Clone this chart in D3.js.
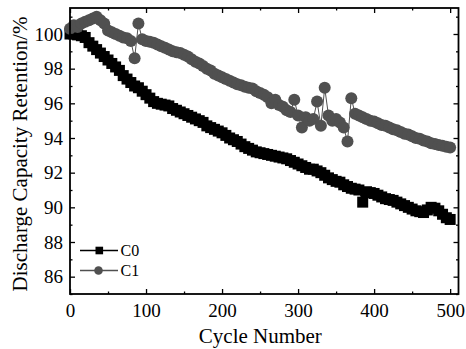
<!DOCTYPE html>
<html>
<head>
<meta charset="utf-8">
<script src="https://cdn.jsdelivr.net/npm/d3@7"></script>
<style>
  body { margin: 0; background: #fff; }
  svg { display: block; }
  .tick line { stroke: #000; stroke-width: 1.3; }
</style>
</head>
<body>
<div id="chart"></div>
<script>
// cycle numbers (sampled every 5 cycles)
const cycles = [0,5,10,15,20,25,30,35,40,45,50,55,60,65,70,75,80,85,90,95,
  100,105,110,115,120,125,130,135,140,145,150,155,160,165,170,175,180,185,190,195,
  200,205,210,215,220,225,230,235,240,245,250,255,260,265,270,275,280,285,290,295,
  300,305,310,315,320,325,330,335,340,345,350,355,360,365,370,375,380,385,390,395,
  400,405,410,415,420,425,430,435,440,445,450,455,460,465,470,475,480,485,490,495,500];

// C0 retention (%)
const c0Values = [100.0,100.0,99.95,99.9,99.8,99.5,99.3,99.1,98.9,98.7,
  98.5,98.3,98.1,97.9,97.6,97.4,97.2,97.0,96.9,96.7,
  96.5,96.3,96.1,96.0,95.95,95.9,95.85,95.7,95.6,95.5,
  95.4,95.3,95.2,95.1,95.0,94.9,94.7,94.6,94.5,94.4,
  94.3,94.15,94.0,93.9,93.8,93.65,93.5,93.4,93.3,93.2,
  93.15,93.1,93.05,93.0,92.95,92.9,92.85,92.8,92.7,92.6,
  92.5,92.4,92.3,92.2,92.2,92.1,92.0,91.85,91.7,91.6,
  91.5,91.45,91.3,91.2,91.1,91.05,91.0,90.3,90.9,90.85,
  90.8,90.7,90.6,90.5,90.45,90.4,90.3,90.2,90.1,90.0,
  89.9,89.8,89.75,89.7,89.85,90.0,89.95,89.8,89.6,89.4,89.3];

// C1 retention (%)
const c1Values = [100.3,100.5,100.4,100.6,100.7,100.8,100.9,101.0,100.8,100.6,
  100.2,100.1,100.0,99.9,99.8,99.75,99.6,98.6,100.6,99.7,
  99.6,99.55,99.5,99.4,99.3,99.2,99.1,99.0,98.95,98.9,
  98.8,98.7,98.55,98.4,98.3,98.15,98.0,97.9,97.7,97.6,
  97.5,97.4,97.3,97.2,97.1,97.05,96.95,96.9,96.85,96.7,
  96.6,96.5,96.35,96.0,96.2,95.9,95.8,95.6,95.5,96.2,
  95.3,94.6,95.2,95.0,95.1,96.1,94.7,96.9,95.3,95.0,
  95.1,94.9,94.6,93.8,96.3,95.4,95.3,95.2,95.1,95.0,
  94.95,94.85,94.75,94.7,94.6,94.5,94.45,94.35,94.25,94.2,
  94.1,94.0,93.95,93.85,93.8,93.7,93.65,93.6,93.55,93.5,93.45];

const seriesNames = ["C0", "C1"];
const seriesColors = ["#000000", "#505050"];
const xMajorTicks = [0, 100, 200, 300, 400, 500];
const xMinorTicks = [50, 150, 250, 350, 450];
const yMajorTicks = [86, 88, 90, 92, 94, 96, 98, 100];
const yMinorTicks = [85, 87, 89, 91, 93, 95, 97, 99, 101];

const width = 466, height = 349;
const plot = {left: 70, right: 458.5, top: 8, bottom: 294};
const font = "Liberation Serif, Times New Roman, serif";

const svg = d3.select("#chart").append("svg")
    .attr("width", width)
    .attr("height", height);

const x = d3.scaleLinear().domain([0, 511]).range([plot.left, plot.right]);
const y = d3.scaleLinear().domain([85, 101.5]).range([plot.bottom, plot.top]);

// series data
const data = [
    cycles.map((c, i) => ({x: c, y: c0Values[i]})),
    cycles.map((c, i) => ({x: c, y: c1Values[i]}))
];

const line = d3.line().x(d => x(d.x)).y(d => y(d.y));

// C0 first, C1 on top
data.forEach((pts, k) => {
    const g = svg.append("g");
    g.append("path")
        .attr("d", line(pts))
        .attr("fill", "none")
        .attr("stroke", seriesColors[k])
        .attr("stroke-width", 1);
    if (k === 0) {
        g.selectAll("rect").data(pts).enter().append("rect")
            .attr("x", d => x(d.x) - 5.5)
            .attr("y", d => y(d.y) - 5.5)
            .attr("width", 11)
            .attr("height", 11)
            .attr("fill", seriesColors[k]);
    } else {
        g.selectAll("circle").data(pts).enter().append("circle")
            .attr("cx", d => x(d.x))
            .attr("cy", d => y(d.y))
            .attr("r", 6)
            .attr("fill", seriesColors[k]);
    }
});

// axes (ticks inward on all four sides)
function addAxis(axis, tx, ty) {
    const g = svg.append("g").attr("transform", `translate(${tx},${ty})`).call(axis);
    g.select(".domain").remove();
    g.attr("font-family", font).attr("font-size", 19);
    g.selectAll("text").attr("fill", "#000");
    return g;
}
addAxis(d3.axisBottom(x).tickValues(xMajorTicks).tickSize(-5).tickSizeOuter(0).tickPadding(10), 0, plot.bottom);
addAxis(d3.axisBottom(x).tickValues(xMinorTicks).tickSize(-2.5).tickFormat(""), 0, plot.bottom);
addAxis(d3.axisTop(x).tickValues(xMajorTicks).tickSize(-5).tickFormat(""), 0, plot.top);
addAxis(d3.axisTop(x).tickValues(xMinorTicks).tickSize(-2.5).tickFormat(""), 0, plot.top);
addAxis(d3.axisLeft(y).tickValues(yMajorTicks).tickSize(-5).tickPadding(7), plot.left, 0);
addAxis(d3.axisLeft(y).tickValues(yMinorTicks).tickSize(-2.5).tickFormat(""), plot.left, 0);
addAxis(d3.axisRight(y).tickValues(yMajorTicks).tickSize(-5).tickFormat(""), plot.right, 0);
addAxis(d3.axisRight(y).tickValues(yMinorTicks).tickSize(-2.5).tickFormat(""), plot.right, 0);

// frame
svg.append("rect")
    .attr("x", plot.left).attr("y", plot.top)
    .attr("width", plot.right - plot.left)
    .attr("height", plot.bottom - plot.top)
    .attr("fill", "none")
    .attr("stroke", "#000")
    .attr("stroke-width", 1.8);

// axis titles
svg.append("text")
    .attr("x", (plot.left + 450.7) / 2)
    .attr("y", 343)
    .attr("text-anchor", "middle")
    .attr("font-family", font)
    .attr("font-size", 21)
    .text("Cycle Number");

svg.append("text")
    .attr("transform", `translate(27,154) rotate(-90)`)
    .attr("text-anchor", "middle")
    .attr("font-family", font)
    .attr("font-size", 21)
    .text("Discharge Capacity Retention/%");

// legend
const legendY = [250.5, 270.5];
seriesNames.forEach((name, k) => {
    const g = svg.append("g").attr("transform", `translate(0,${legendY[k]})`);
    g.append("line")
        .attr("x1", 80).attr("x2", 118)
        .attr("stroke", seriesColors[k])
        .attr("stroke-width", 1.3);
    if (k === 0) {
        g.append("rect").attr("x", 95.5).attr("y", -3.8).attr("width", 7.6).attr("height", 7.6)
            .attr("fill", seriesColors[k]);
    } else {
        g.append("circle").attr("cx", 98.5).attr("r", 4.3).attr("fill", seriesColors[k]);
    }
    g.append("text")
        .attr("x", 120.5)
        .attr("y", 5.5)
        .attr("font-family", font)
        .attr("font-size", 16)
        .text(name);
});
</script>
</body>
</html>
